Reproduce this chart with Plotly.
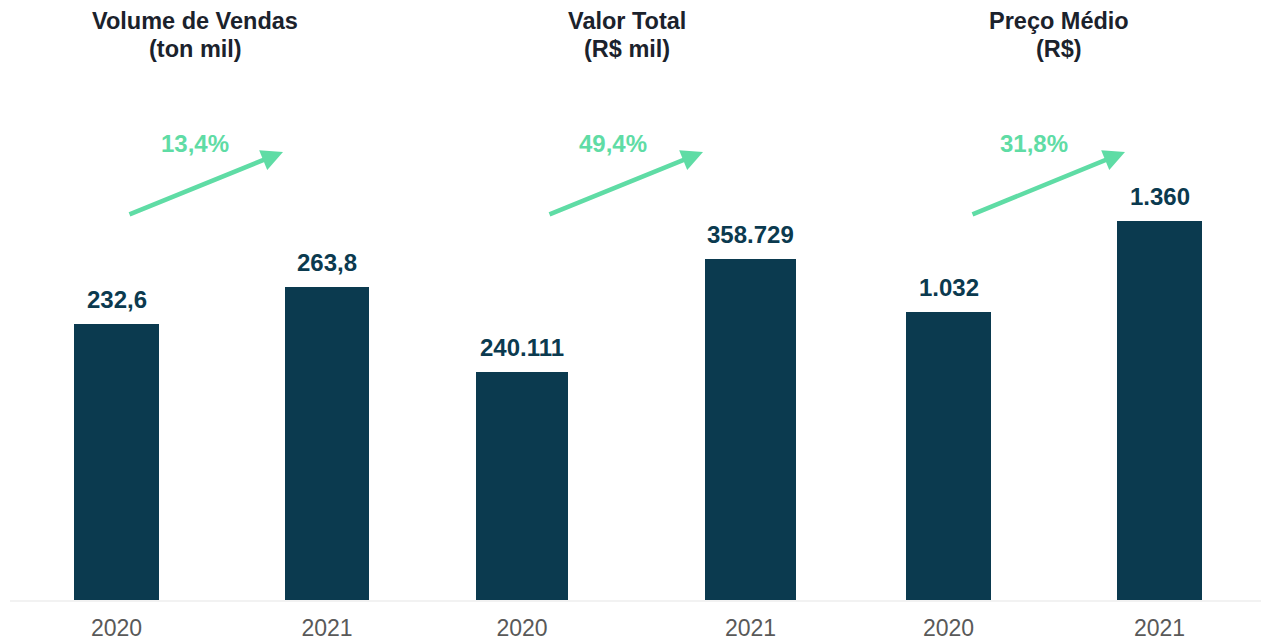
import plotly.graph_objects as go

# ---------------- data ----------------
categories = ["2020", "2021"]
volume_vendas = [232.6, 263.8]          # ton mil
valor_total = [240111, 358729]          # R$ mil
preco_medio = [1032, 1360]              # R$
volume_labels = ["232,6", "263,8"]
valor_labels = ["240.111", "358.729"]
preco_labels = ["1.032", "1.360"]
growth_labels = ["13,4%", "49,4%", "31,8%"]
title_line1 = ["Volume de Vendas", "Valor Total", "Preço Médio"]
title_line2 = ["(ton mil)", "(R$ mil)", "(R$)"]

series = [volume_vendas, valor_total, preco_medio]
series_labels = [volume_labels, valor_labels, preco_labels]

# ---------------- layout / style ----------------
W, H = 1261, 643
BASE_PX = 600                      # baseline pixel row
BAR_COLOR = "#0b3a4f"
GREEN = "#5fdca5"
TITLE_COLOR = "#1b222c"
TICK_COLOR = "#595959"
FONT = "Liberation Sans, Arial, sans-serif"

# per panel: x-domain in px, bar-centre px for the two categories, y max
panel_domain_px = [(0, 420), (420, 850), (850, 1261)]
panel_centres_px = [(116.5, 327.0), (522.0, 750.5), (948.5, 1159.5)]
panel_ymax = [505.6, 631600, 2151]
title_centre_px = [195, 627, 1059]
growth_centre_px = [195, 613, 1034]
arrow_head_px = [(283, 152), (703, 152), (1125, 152)]
arrow_tail_px = [(128, 215), (548, 215), (971, 215)]

y_dom = [(H - BASE_PX) / H, 1.0]

fig = go.Figure()
annotations = []
layout_axes = {}

for i in range(3):
    sfx = "" if i == 0 else str(i + 1)
    fig.add_trace(go.Bar(
        x=categories, y=series[i], width=0.4,
        text=series_labels[i], textposition="none",
        marker=dict(color=BAR_COLOR, line=dict(width=0)),
        xaxis="x" + sfx, yaxis="y" + sfx,
        hoverinfo="x+text", showlegend=False,
    ))
    d0, d1 = panel_domain_px[i]
    c0, c1 = panel_centres_px[i]
    s = c1 - c0
    layout_axes["xaxis" + sfx] = dict(
        domain=[d0 / W, d1 / W], range=[(d0 - c0) / s, (d1 - c0) / s],
        type="category", showgrid=False, zeroline=False, showline=False,
        ticks="", ticklabelstandoff=12,
        tickfont=dict(size=23, color=TICK_COLOR, family=FONT),
        anchor="y" + sfx, fixedrange=True,
    )
    layout_axes["yaxis" + sfx] = dict(
        domain=y_dom, range=[0, panel_ymax[i]],
        showgrid=False, zeroline=False, showline=False,
        showticklabels=False, ticks="",
        anchor="x" + sfx, fixedrange=True,
    )
    # value labels
    for j, (val, lab) in enumerate(zip(series[i], series_labels[i])):
        annotations.append(dict(
            x=j, y=val, xref="x" + sfx, yref="y" + sfx,
            text="<b>%s</b>" % lab, showarrow=False,
            xanchor="center", yanchor="bottom",
            yshift=9, font=dict(size=24, color=BAR_COLOR, family=FONT),
        ))
    # titles
    annotations.append(dict(
        x=title_centre_px[i] / W, y=1 - 21 / H, xref="paper", yref="paper",
        text="<b>%s</b>" % title_line1[i], showarrow=False,
        xanchor="center", yanchor="middle",
        font=dict(size=23.5, color=TITLE_COLOR, family=FONT),
    ))
    annotations.append(dict(
        x=title_centre_px[i] / W, y=1 - 49 / H, xref="paper", yref="paper",
        text="<b>%s</b>" % title_line2[i], showarrow=False,
        xanchor="center", yanchor="middle",
        font=dict(size=23.5, color=TITLE_COLOR, family=FONT),
    ))
    # growth text
    annotations.append(dict(
        x=growth_centre_px[i] / W, y=1 - 143 / H, xref="paper", yref="paper",
        text="<b>%s</b>" % growth_labels[i], showarrow=False,
        xanchor="center", yanchor="middle",
        font=dict(size=24, color=GREEN, family=FONT),
    ))
    # arrow
    hx, hy = arrow_head_px[i]
    tx, ty = arrow_tail_px[i]
    annotations.append(dict(
        x=hx / W, y=1 - hy / H, xref="paper", yref="paper",
        ax=tx - hx, ay=ty - hy, axref="pixel", ayref="pixel",
        text="", showarrow=True, arrowhead=2, arrowsize=0.95,
        arrowwidth=4.5, arrowcolor=GREEN, standoff=0,
    ))

fig.update_layout(
    width=W, height=H, autosize=False,
    margin=dict(l=0, r=0, t=0, b=0),
    paper_bgcolor="white", plot_bgcolor="white",
    bargap=0, annotations=annotations,
    font=dict(family=FONT),
    shapes=[dict(
        type="line", xref="paper", yref="paper", layer="below",
        x0=10 / W, x1=1, y0=(H - BASE_PX - 1) / H, y1=(H - BASE_PX - 1) / H,
        line=dict(color="#eeeeee", width=1.5),
    )],
    **layout_axes,
)

fig.write_html("out.html", config={"displayModeBar": False},
               post_script="document.body.style.margin='0';")
